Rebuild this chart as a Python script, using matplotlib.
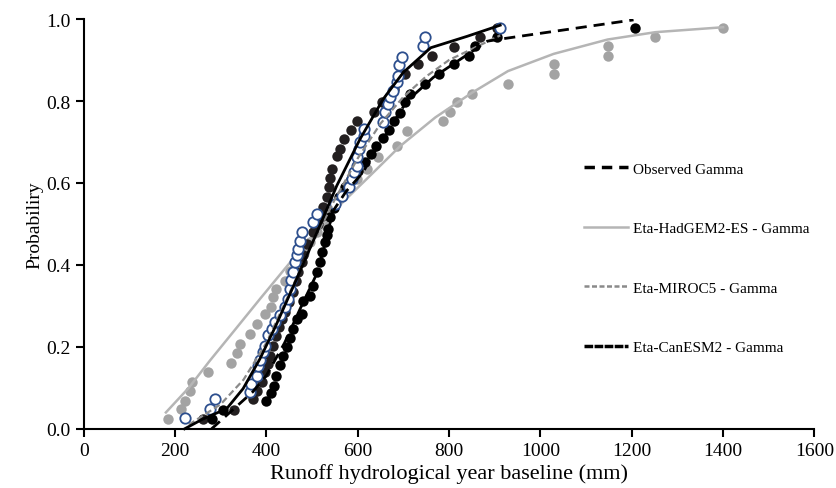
import matplotlib
matplotlib.use("Agg")
import matplotlib.pyplot as plt
from matplotlib.lines import Line2D
from matplotlib.ticker import FormatStrFormatter, MultipleLocator

plt.rcParams["font.family"] = ["Liberation Serif", "DejaVu Serif"]

# Observed runoff (black dots) and its gamma fit
obs_mm = [280, 305, 399, 410, 417, 421, 430, 437, 445, 452, 459, 467, 477, 481, 496, 503, 510,
          517, 521, 529, 532, 536, 540, 548, 560, 572, 585, 600, 615, 628, 640, 656, 668, 680,
          693, 704, 715, 748, 777, 810, 843, 857, 905, 1208]
obs_p = [0.024, 0.047, 0.068, 0.088, 0.105, 0.13, 0.155, 0.178, 0.2, 0.222, 0.244, 0.268, 0.28,
         0.313, 0.325, 0.349, 0.382, 0.407, 0.431, 0.456, 0.472, 0.488, 0.517, 0.54, 0.565, 0.59,
         0.61, 0.63, 0.65, 0.67, 0.69, 0.71, 0.73, 0.75, 0.77, 0.797, 0.817, 0.841, 0.866, 0.89,
         0.91, 0.934, 0.956, 0.978]
obs_fit_mm = [280, 330, 370, 400, 440, 474, 511, 533, 545, 575, 612, 631, 656, 678, 708, 766,
              825, 884, 912, 1204]
obs_fit_p = [0.0, 0.05, 0.09, 0.13, 0.21, 0.293, 0.38, 0.47, 0.53, 0.58, 0.626, 0.666, 0.707,
             0.748, 0.80, 0.858, 0.902, 0.946, 0.951, 0.998]

# Eta-HadGEM2-ES (gray dots)
had_mm = [184, 214, 222, 232, 238, 272, 322, 336, 342, 364, 380, 398, 410, 414, 420, 440, 452,
          468, 482, 496, 510, 524, 538, 552, 566, 580, 598, 620, 645, 686, 708, 787, 803, 817,
          850, 929, 1029, 1029, 1147, 1147, 1252, 1399]
had_p = [0.024, 0.049, 0.068, 0.093, 0.115, 0.139, 0.161, 0.185, 0.207, 0.232, 0.256, 0.28,
         0.298, 0.322, 0.341, 0.36, 0.385, 0.41, 0.43, 0.455, 0.48, 0.5, 0.525, 0.55, 0.57, 0.59,
         0.61, 0.635, 0.663, 0.69, 0.727, 0.751, 0.773, 0.797, 0.817, 0.841, 0.866, 0.89, 0.91,
         0.934, 0.956, 0.978]
had_fit_mm = [180, 230, 276, 330, 386, 440, 500, 560, 620, 693, 770, 850, 929, 1029, 1147, 1252, 1400]
had_fit_p = [0.04, 0.10, 0.166, 0.24, 0.317, 0.39, 0.47, 0.545, 0.61, 0.69, 0.76, 0.82, 0.873,
             0.915, 0.95, 0.968, 0.98]

# Eta-MIROC5 (open circles)
mir_mm = [221, 276, 287, 364, 366, 379, 382, 386, 393, 397, 404, 412, 419, 430, 441, 448, 452,
          455, 459, 463, 466, 470, 474, 477, 503, 510, 550, 565, 580, 587, 591, 598, 599, 602,
          605, 613, 614, 656, 660, 667, 671, 678, 686, 689, 690, 697, 744, 748, 912]
mir_p = [0.027, 0.049, 0.073, 0.089, 0.11, 0.13, 0.154, 0.167, 0.187, 0.203, 0.228, 0.244, 0.26,
         0.278, 0.297, 0.317, 0.341, 0.362, 0.382, 0.407, 0.423, 0.439, 0.459, 0.48, 0.504, 0.524,
         0.549, 0.569, 0.589, 0.61, 0.626, 0.642, 0.663, 0.683, 0.699, 0.715, 0.732, 0.748, 0.772,
         0.793, 0.809, 0.825, 0.846, 0.862, 0.887, 0.907, 0.935, 0.955, 0.978]
mir_fit_mm = [230, 300, 350, 400, 450, 500, 550, 600, 650, 700, 750, 800, 912]
mir_fit_p = [0.01, 0.06, 0.12, 0.21, 0.33, 0.45, 0.56, 0.66, 0.745, 0.81, 0.86, 0.9, 0.96]

# Eta-CanESM2 (dark dots)
can_mm = [262, 330, 371, 380, 390, 397, 404, 408, 415, 422, 428, 434, 441, 450, 458, 464, 470,
          477, 481, 490, 503, 512, 521, 525, 532, 537, 540, 543, 554, 561, 569, 585, 598, 635,
          653, 680, 704, 732, 763, 810, 868, 905]
can_p = [0.024, 0.047, 0.073, 0.093, 0.114, 0.139, 0.159, 0.178, 0.203, 0.227, 0.248, 0.268,
         0.285, 0.31, 0.335, 0.36, 0.382, 0.407, 0.423, 0.45, 0.48, 0.5, 0.52, 0.541, 0.565, 0.59,
         0.612, 0.634, 0.666, 0.683, 0.707, 0.73, 0.751, 0.773, 0.797, 0.83, 0.866, 0.89, 0.91,
         0.932, 0.956, 0.978]
can_fit_mm = [221, 261, 313, 349, 386, 420, 460, 511, 554, 605, 656, 700, 760, 840, 912]
can_fit_p = [0.0, 0.024, 0.049, 0.098, 0.171, 0.25, 0.35, 0.48, 0.593, 0.707, 0.805, 0.87, 0.93,
             0.958, 0.985]

fig = plt.figure(figsize=(8.37, 4.89), dpi=100)
ax = fig.add_axes([0.100, 0.121, 0.873, 0.838])

ms = 7.5
ax.plot(had_mm, had_p, "o", color="#a3a3a3", ms=ms, mec="none", zorder=2, clip_on=False)
ax.plot(had_fit_mm, had_fit_p, "-", color="#b5b5b5", lw=1.8, zorder=3)
ax.plot(can_mm, can_p, "o", color="#231f20", ms=ms, mec="none", zorder=4, clip_on=False)
ax.plot(obs_mm, obs_p, "o", color="black", ms=ms, mec="none", zorder=4, clip_on=False)
ax.plot(mir_mm, mir_p, "o", mfc="white", mec="#2d4f8e", mew=1.3, ms=ms, zorder=5, clip_on=False)
ax.plot(mir_fit_mm, mir_fit_p, color="#8a8a8a", lw=1.6, ls=(0, (3, 1.5)), zorder=6)
ax.plot(obs_fit_mm, obs_fit_p, color="black", lw=2.0, ls=(0, (4, 2.5)), zorder=6)
ax.plot(can_fit_mm, can_fit_p, "-", color="black", lw=2.0, zorder=6, clip_on=False)

ax.set_xlim(0, 1600)
ax.set_ylim(0, 1.0)
ax.xaxis.set_major_locator(MultipleLocator(200))
ax.yaxis.set_major_locator(MultipleLocator(0.2))
ax.yaxis.set_major_formatter(FormatStrFormatter("%.1f"))
for s in ["top", "right"]:
    ax.spines[s].set_visible(False)
for s in ["left", "bottom"]:
    ax.spines[s].set_linewidth(1.5)
ax.tick_params(direction="out", length=6, width=1.5, labelsize=14, colors="black")
ax.set_xlabel("Runoff hydrological year baseline (mm)", fontsize=16, labelpad=3)
ax.set_ylabel("Probabiliry", fontsize=14, labelpad=2)

handles = [
    Line2D([], [], color="black", lw=2.5, ls=(0, (3, 2))),
    Line2D([], [], color="#b5b5b5", lw=1.8),
    Line2D([], [], color="#8a8a8a", lw=1.8, ls=(0, (2, 1))),
    Line2D([], [], color="black", lw=2.5, ls=(0, (2.5, 0.4))),
]
labels = ["Observed Gamma", "Eta-HadGEM2-ES - Gamma", "Eta-MIROC5 - Gamma", "Eta-CanESM2 - Gamma"]
ax.legend(handles, labels, loc="upper left", bbox_to_anchor=(0.666, 0.685), frameon=False,
          fontsize=11, handlelength=2.9, handletextpad=0.3, labelspacing=3.0)

fig.savefig("out.png", dpi=100)
